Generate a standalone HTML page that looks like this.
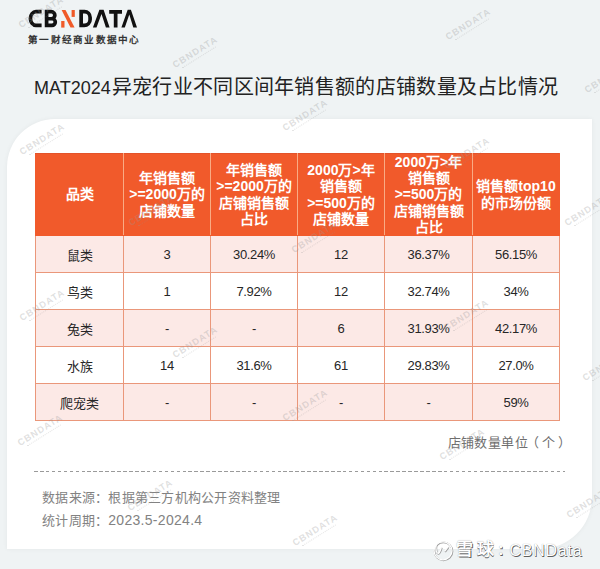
<!DOCTYPE html>
<html lang="zh-CN">
<head>
<meta charset="utf-8">
<style>
html,body{margin:0;padding:0;}
body{width:600px;height:569px;overflow:hidden;background:#eff3f4;position:relative;font-family:"Liberation Sans",sans-serif;color:#333;}
.logo{position:absolute;left:0;top:0;}
.sub{position:absolute;left:28px;top:33px;font-size:9.6px;font-weight:bold;letter-spacing:1.25px;color:#333;white-space:nowrap;line-height:14px;}
.title{position:absolute;left:34px;top:73px;font-size:20px;line-height:28px;color:#222;white-space:nowrap;letter-spacing:0.3px;}
.lat{font-size:18px;letter-spacing:0;margin-right:1px;}
.card{position:absolute;left:7px;top:119px;width:585px;height:430px;background:#fff;border-radius:48px 0 52px 0;box-shadow:0 0 5px rgba(0,0,0,0.05);}
table{position:absolute;left:35px;top:153px;border-collapse:collapse;table-layout:fixed;width:525px;}
td,th{border:1px solid #ea977a;text-align:center;padding:0;}
th{background:#f15a2b;color:#fff;font-weight:bold;font-size:14px;line-height:16.2px;height:81px;padding:0;border-color:#f9ab84;border-top-color:#e3532a;border-bottom-color:#f15a2b;}
th:first-child{border-left-color:#f15a2b}
th:last-child{border-right-color:#f15a2b}
td{font-size:13px;height:36px;color:#262626;}
td+td{letter-spacing:-0.35px;}
tr.p td{background:#fce9e6;}
tr.w td{background:#fff;}
.unit{position:absolute;left:447.5px;top:434px;font-size:13px;letter-spacing:0.45px;color:#6e6e6e;line-height:18px;white-space:nowrap;}
.unit b{font-weight:normal;position:relative;}
.dash{position:absolute;left:33.5px;top:471px;width:531px;height:1px;background:repeating-linear-gradient(to right,#9a9a9a 0 3.6px,transparent 3.6px 5.94px);}
.src{position:absolute;left:42px;top:485.5px;font-size:13px;letter-spacing:0.25px;color:#828282;line-height:23px;white-space:nowrap;}
.src span{font-size:14px;letter-spacing:0.3px;}
.wm{position:absolute;color:#fff;white-space:nowrap;text-shadow:0.7px 0.9px 0.5px rgba(0,0,0,.62),0 0 1px rgba(0,0,0,.4);line-height:20px;}
.wm1{left:456px;top:540px;font-size:17px;font-weight:bold;letter-spacing:3.5px;}
.wm2{left:498px;top:540px;font-size:17px;font-weight:bold;}
.wm3{left:509.5px;top:541px;font-size:16px;letter-spacing:0.75px;}
.xq{position:absolute;left:432px;top:540px;}
.wmk{position:absolute;width:60px;height:14px;transform-origin:0 9px;transform:rotate(-32deg);font-weight:bold;font-size:9.3px;letter-spacing:0.95px;line-height:9px;color:rgba(150,150,150,0.3);white-space:nowrap;}
.wmk i{display:block;margin:1px 0 0 6px;width:40px;border-top:1px dotted rgba(150,150,150,0.25);}
</style>
</head>
<body>
<svg class="logo" width="150" height="32" viewBox="0 0 150 32">
  <g fill="none" stroke="#111" stroke-width="3.7">
    <path d="M41.6 11.65 H36 A5.5 6.85 0 0 0 30.45 18.5 A5.5 6.85 0 0 0 36 25.35 H41.6"/>
    <path d="M46.6 9.8 V27.2 M44.75 11.65 H51.3 A3.55 3.55 0 0 1 51.3 18.75 H46.6 M46.6 18.75 H52 A3.3 3.3 0 0 1 52 25.35 H44.75"/>
    <path d="M81.15 9.8 V27.2 M79.3 11.65 H84.5 A5.6 5.85 0 0 1 90.1 17.5 V19.5 A5.85 5.85 0 0 1 84.25 25.35 H79.3"/>
    <path d="M115.65 13.5 V27.4 M109.2 11.8 H122"/>
  </g>
  <g fill="#111">
    <path d="M99.4 9.8 H103.6 L109.6 27.4 H105.9 L101.5 14 L96.5 27.4 H92.9 Z"/>
    <path d="M127.7 9.8 H130.9 L137 27.4 H133.3 L129.3 14.5 L124.8 27.4 H121.4 Z"/>
  </g>
  <g fill="#f05a28">
    <path d="M61.2 21 H64.5 V27.6 H61.2 Z"/>
    <path d="M61.6 10 H65.5 L74.6 27.6 H70.5 Z"/>
    <path d="M71.6 10 H74.8 V16.9 H71.6 Z"/>
  </g>
</svg>
<div class="sub">第一财经商业数据中心</div>
<div class="title"><span class="lat">MAT2024</span>异宠行业不同区间年销售额的店铺数量及占比情况</div>
<div class="card"></div>
<table>
<colgroup><col style="width:88px"><col style="width:87px"><col style="width:87px"><col style="width:87px"><col style="width:88px"><col style="width:87px"></colgroup>
<tr><th>品类</th><th>年销售额<br>&gt;=2000万的<br>店铺数量</th><th>年销售额<br>&gt;=2000万的<br>店铺销售额<br>占比</th><th>2000万&gt;年<br>销售额<br>&gt;=500万的<br>店铺数量</th><th>2000万&gt;年<br>销售额<br>&gt;=500万的<br>店铺销售额<br>占比</th><th>销售额top10<br>的市场份额</th></tr>
<tr class="p"><td>鼠类</td><td>3</td><td>30.24%</td><td>12</td><td>36.37%</td><td>56.15%</td></tr>
<tr class="w"><td>鸟类</td><td>1</td><td>7.92%</td><td>12</td><td>32.74%</td><td>34%</td></tr>
<tr class="p"><td>兔类</td><td>-</td><td>-</td><td>6</td><td>31.93%</td><td>42.17%</td></tr>
<tr class="w"><td>水族</td><td>14</td><td>31.6%</td><td>61</td><td>29.83%</td><td>27.0%</td></tr>
<tr class="p"><td>爬宠类</td><td>-</td><td>-</td><td>-</td><td>-</td><td>59%</td></tr>
</table>
<div class="unit">店铺数量单位<b style="left:-2px">（</b>个<b style="left:2.5px">）</b></div>
<div class="dash"></div>
<div class="src">数据来源：根据第三方机构公开资料整理<br>统计周期：<span>2023.5-2024.4</span></div>
<div class="wmk" style="left:22px;top:21px">CBNDATA<i></i></div>
<div class="wmk" style="left:176px;top:61px">CBNDATA<i></i></div>
<div class="wmk" style="left:449px;top:33px">CBNDATA<i></i></div>
<div class="wmk" style="left:588px;top:86px">CBNDATA<i></i></div>
<div class="wmk" style="left:23px;top:148px">CBNDATA<i></i></div>
<div class="wmk" style="left:286px;top:124px">CBNDATA<i></i></div>
<div class="wmk" style="left:448px;top:162px">CBNDATA<i></i></div>
<div class="wmk" style="left:132px;top:219px">CBNDATA<i></i></div>
<div class="wmk" style="left:295px;top:246px">CBNDATA<i></i></div>
<div class="wmk" style="left:568px;top:219px">CBNDATA<i></i></div>
<div class="wmk" style="left:23px;top:314px">CBNDATA<i></i></div>
<div class="wmk" style="left:176px;top:351px">CBNDATA<i></i></div>
<div class="wmk" style="left:447px;top:324px">CBNDATA<i></i></div>
<div class="wmk" style="left:286px;top:414px">CBNDATA<i></i></div>
<div class="wmk" style="left:586px;top:374px">CBNDATA<i></i></div>
<div class="wmk" style="left:21px;top:439px">CBNDATA<i></i></div>
<div class="wmk" style="left:443px;top:453px">CBNDATA<i></i></div>
<div class="wmk" style="left:131px;top:504px">CBNDATA<i></i></div>
<div class="wmk" style="left:570px;top:511px">CBNDATA<i></i></div>
<div class="wmk" style="left:296px;top:539px">CBNDATA<i></i></div>
<svg class="xq" width="22" height="22" viewBox="0 0 22 22"><g fill="none" stroke="#9c9c9c" stroke-width="1.7" transform="translate(0.5 0.6)"><circle cx="11" cy="10.8" r="9"/><path d="M4 4.8 C3.4 10 4.5 13.6 6.2 13.4 C7.6 13.2 8.6 9.8 9.4 7.2"/><path d="M16.3 6.7 L12.6 11.4"/></g><g fill="none" stroke="#fff" stroke-width="1.3"><circle cx="11" cy="10.8" r="9"/><path d="M4 4.8 C3.4 10 4.5 13.6 6.2 13.4 C7.6 13.2 8.6 9.8 9.4 7.2"/><path d="M16.3 6.7 L12.6 11.4"/></g></svg>
<div class="wm wm1">雪球</div><div class="wm wm2">:</div><div class="wm wm3">CBNData</div>
</body>
</html>
